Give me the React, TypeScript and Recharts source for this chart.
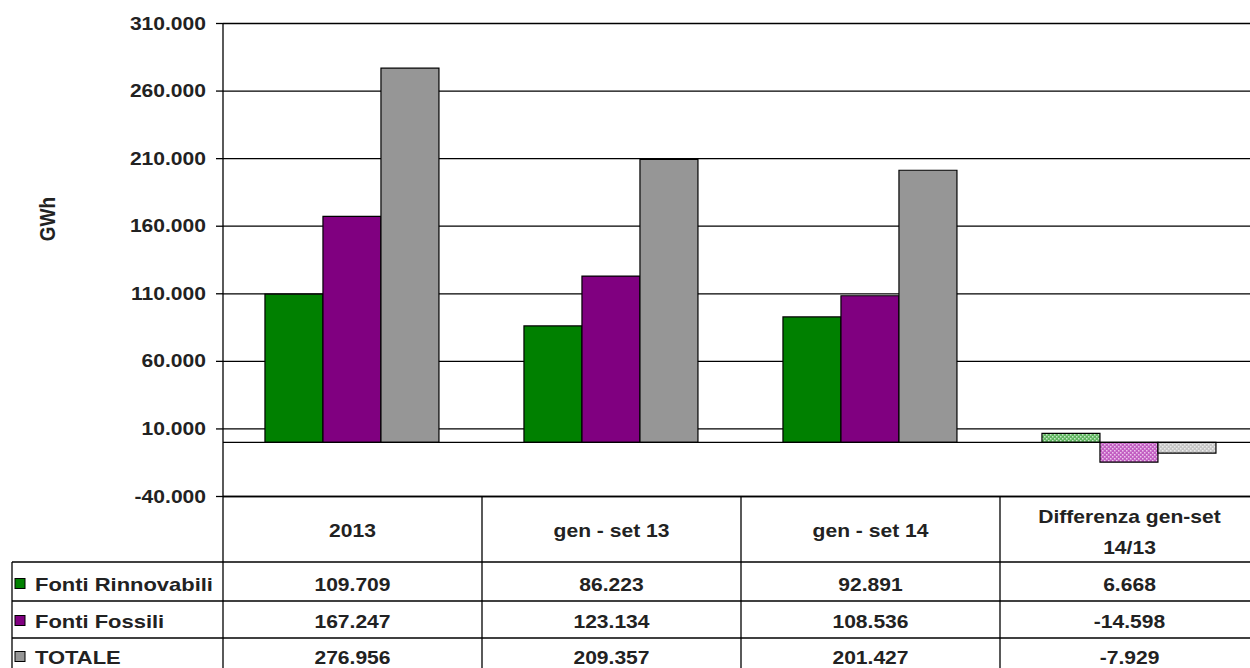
import React from 'react';
import { BarChart, Bar, XAxis, YAxis, CartesianGrid, ReferenceLine, Cell } from 'recharts';

const categories = ['2013', 'gen - set 13', 'gen - set 14', 'Differenza gen-set 14/13'];
const headerLines = [['2013'], ['gen - set 13'], ['gen - set 14'], ['Differenza gen-set', '14/13']];
const rinnovabili = [109709, 86223, 92891, 6668];
const fossili = [167247, 123134, 108536, -14598];
const totale = [276956, 209357, 201427, -7929];
const yTicks = [-40000, 10000, 60000, 110000, 160000, 210000, 260000, 310000];

const seriesNames = ['Fonti Rinnovabili', 'Fonti Fossili', 'TOTALE'];
const seriesColors = ['#008000', '#800080', '#969696'];
const seriesPatterns = ['url(#patG)', 'url(#patP)', 'url(#patT)'];
const seriesValues = [rinnovabili, fossili, totale];

const data = categories.map((name, i) => ({
  name,
  r: rinnovabili[i],
  f: fossili[i],
  t: totale[i],
}));

const fmt = (v: number) => {
  const s = Math.abs(v).toString().replace(/\B(?=(\d{3})+(?!\d))/g, '.');
  return (v < 0 ? '-' : '') + s;
};

const FONT = '"Liberation Sans", Arial, sans-serif';
const TXT = '#222';
const SX = 1.17;

const PLOT_LEFT = 223;
const PLOT_TOP = 23.5;
const PLOT_BOTTOM = 496.5;
const BAND = 259;
const CHART_W = PLOT_LEFT + BAND * 4;
const CHART_H = 668;

const T = ({ x, y, anchor = 'middle', sx = SX, children }: any) => (
  <text
    transform={`translate(${x},${y}) scale(${sx},1)`}
    textAnchor={anchor}
    fontFamily={FONT}
    fontWeight="bold"
    fontSize={18}
    fill={TXT}
  >
    {children}
  </text>
);

const YTick = (props: any) => {
  const { x, y, payload } = props;
  return (
    <g>
      <text
        transform={`translate(${x},${y + 6}) scale(${SX},1)`}
        textAnchor="end"
        fontFamily={FONT}
        fontWeight="bold"
        fontSize={18}
        fill={TXT}
      >
        {fmt(payload.value)}
      </text>
    </g>
  );
};

const Table = () => {
  const rowLines = [562, 601, 638];
  const baselines = [590.5, 627.5, 663.5];
  const colX = [0, 1, 2, 3, 4].map((k) => PLOT_LEFT + BAND * k);
  return (
    <svg
      width={1250}
      height={668}
      style={{ position: 'absolute', left: 0, top: 0, pointerEvents: 'none' }}
    >
      <text
        transform="translate(55,219) rotate(-90) scale(1,1.17)"
        textAnchor="middle"
        fontFamily={FONT}
        fontWeight="bold"
        fontSize={19}
        fill={TXT}
      >
        GWh
      </text>
      <line x1={PLOT_LEFT} y1={PLOT_BOTTOM} x2={1250} y2={PLOT_BOTTOM} stroke="#000" strokeWidth={1.3} />
      {rowLines.map((y) => (
        <line key={y} x1={12} y1={y} x2={1250} y2={y} stroke="#000" strokeWidth={1.3} />
      ))}
      <line x1={12} y1={562} x2={12} y2={668} stroke="#000" strokeWidth={1.3} />
      {colX.map((x) => (
        <line key={x} x1={x} y1={PLOT_BOTTOM} x2={x} y2={668} stroke="#000" strokeWidth={1.3} />
      ))}
      {headerLines.map((lines, i) => {
        const cx = PLOT_LEFT + BAND * i + BAND / 2;
        if (lines.length === 1) {
          return (
            <T key={i} x={cx} y={536.5}>
              {lines[0]}
            </T>
          );
        }
        return (
          <g key={i}>
            <T x={cx} y={522.5}>{lines[0]}</T>
            <T x={cx} y={553.5}>{lines[1]}</T>
          </g>
        );
      })}
      {seriesNames.map((name, r) => (
        <g key={name}>
          <rect
            x={15}
            y={baselines[r] - 12}
            width={10}
            height={10}
            fill={seriesColors[r]}
            stroke="#000"
            strokeWidth={1}
          />
          <T x={35} y={baselines[r]} anchor="start" sx={1.22}>
            {name}
          </T>
          {seriesValues[r].map((v, c) => (
            <T key={c} x={PLOT_LEFT + BAND * c + BAND / 2} y={baselines[r]}>
              {fmt(v)}
            </T>
          ))}
        </g>
      ))}
    </svg>
  );
};

const Patterns = () => (
  <svg width={0} height={0} style={{ position: 'absolute', left: 0, top: 0 }}>
    <defs>
      <pattern id="patG" width={4} height={4} patternUnits="userSpaceOnUse">
        <rect width={4} height={4} fill="#5fb55f" />
        <rect x={0} y={0} width={1.5} height={1.5} fill="#c8e8c8" />
        <rect x={2} y={2} width={1.5} height={1.5} fill="#c8e8c8" />
      </pattern>
      <pattern id="patP" width={4} height={4} patternUnits="userSpaceOnUse">
        <rect width={4} height={4} fill="#c25ec2" />
        <rect x={0} y={0} width={1.5} height={1.5} fill="#ecc4ec" />
        <rect x={2} y={2} width={1.5} height={1.5} fill="#ecc4ec" />
      </pattern>
      <pattern id="patT" width={4} height={4} patternUnits="userSpaceOnUse">
        <rect width={4} height={4} fill="#c4c4c4" />
        <rect x={0} y={0} width={1.5} height={1.5} fill="#ececec" />
        <rect x={2} y={2} width={1.5} height={1.5} fill="#ececec" />
      </pattern>
    </defs>
  </svg>
);

export default function App() {
  const keys = ['r', 'f', 't'];
  return (
    <div
      style={{
        position: 'absolute',
        left: 0,
        top: 0,
        width: 1250,
        height: 668,
        overflow: 'hidden',
        background: '#fff',
      }}
    >
      <Patterns />
      <BarChart
        width={CHART_W}
        height={CHART_H}
        data={data}
        margin={{ top: PLOT_TOP, right: 0, bottom: CHART_H - PLOT_BOTTOM, left: 0 }}
        barCategoryGap="16.2%"
        barGap={0}
      >
        <CartesianGrid vertical={false} stroke="#000" strokeWidth={1.3} strokeOpacity={1} />
        <XAxis dataKey="name" hide />
        <YAxis
          width={PLOT_LEFT}
          domain={[-40000, 310000]}
          ticks={yTicks}
          interval={0}
          allowDataOverflow
          axisLine={{ stroke: '#000', strokeWidth: 1.3 }}
          tickLine={{ stroke: '#000', strokeWidth: 1.3 }}
          tickSize={7}
          tickMargin={10}
          tick={<YTick />}
        />
        {keys.map((k, s) => (
          <Bar key={k} dataKey={k} fill={seriesColors[s]} stroke="#000" strokeWidth={1.2} isAnimationActive={false}>
            {data.map((d, i) => (
              <Cell key={i} fill={i === 3 ? seriesPatterns[s] : seriesColors[s]} />
            ))}
          </Bar>
        ))}
        <ReferenceLine y={0} stroke="#000" strokeWidth={1.3} />
      </BarChart>
      <Table />
    </div>
  );
}
